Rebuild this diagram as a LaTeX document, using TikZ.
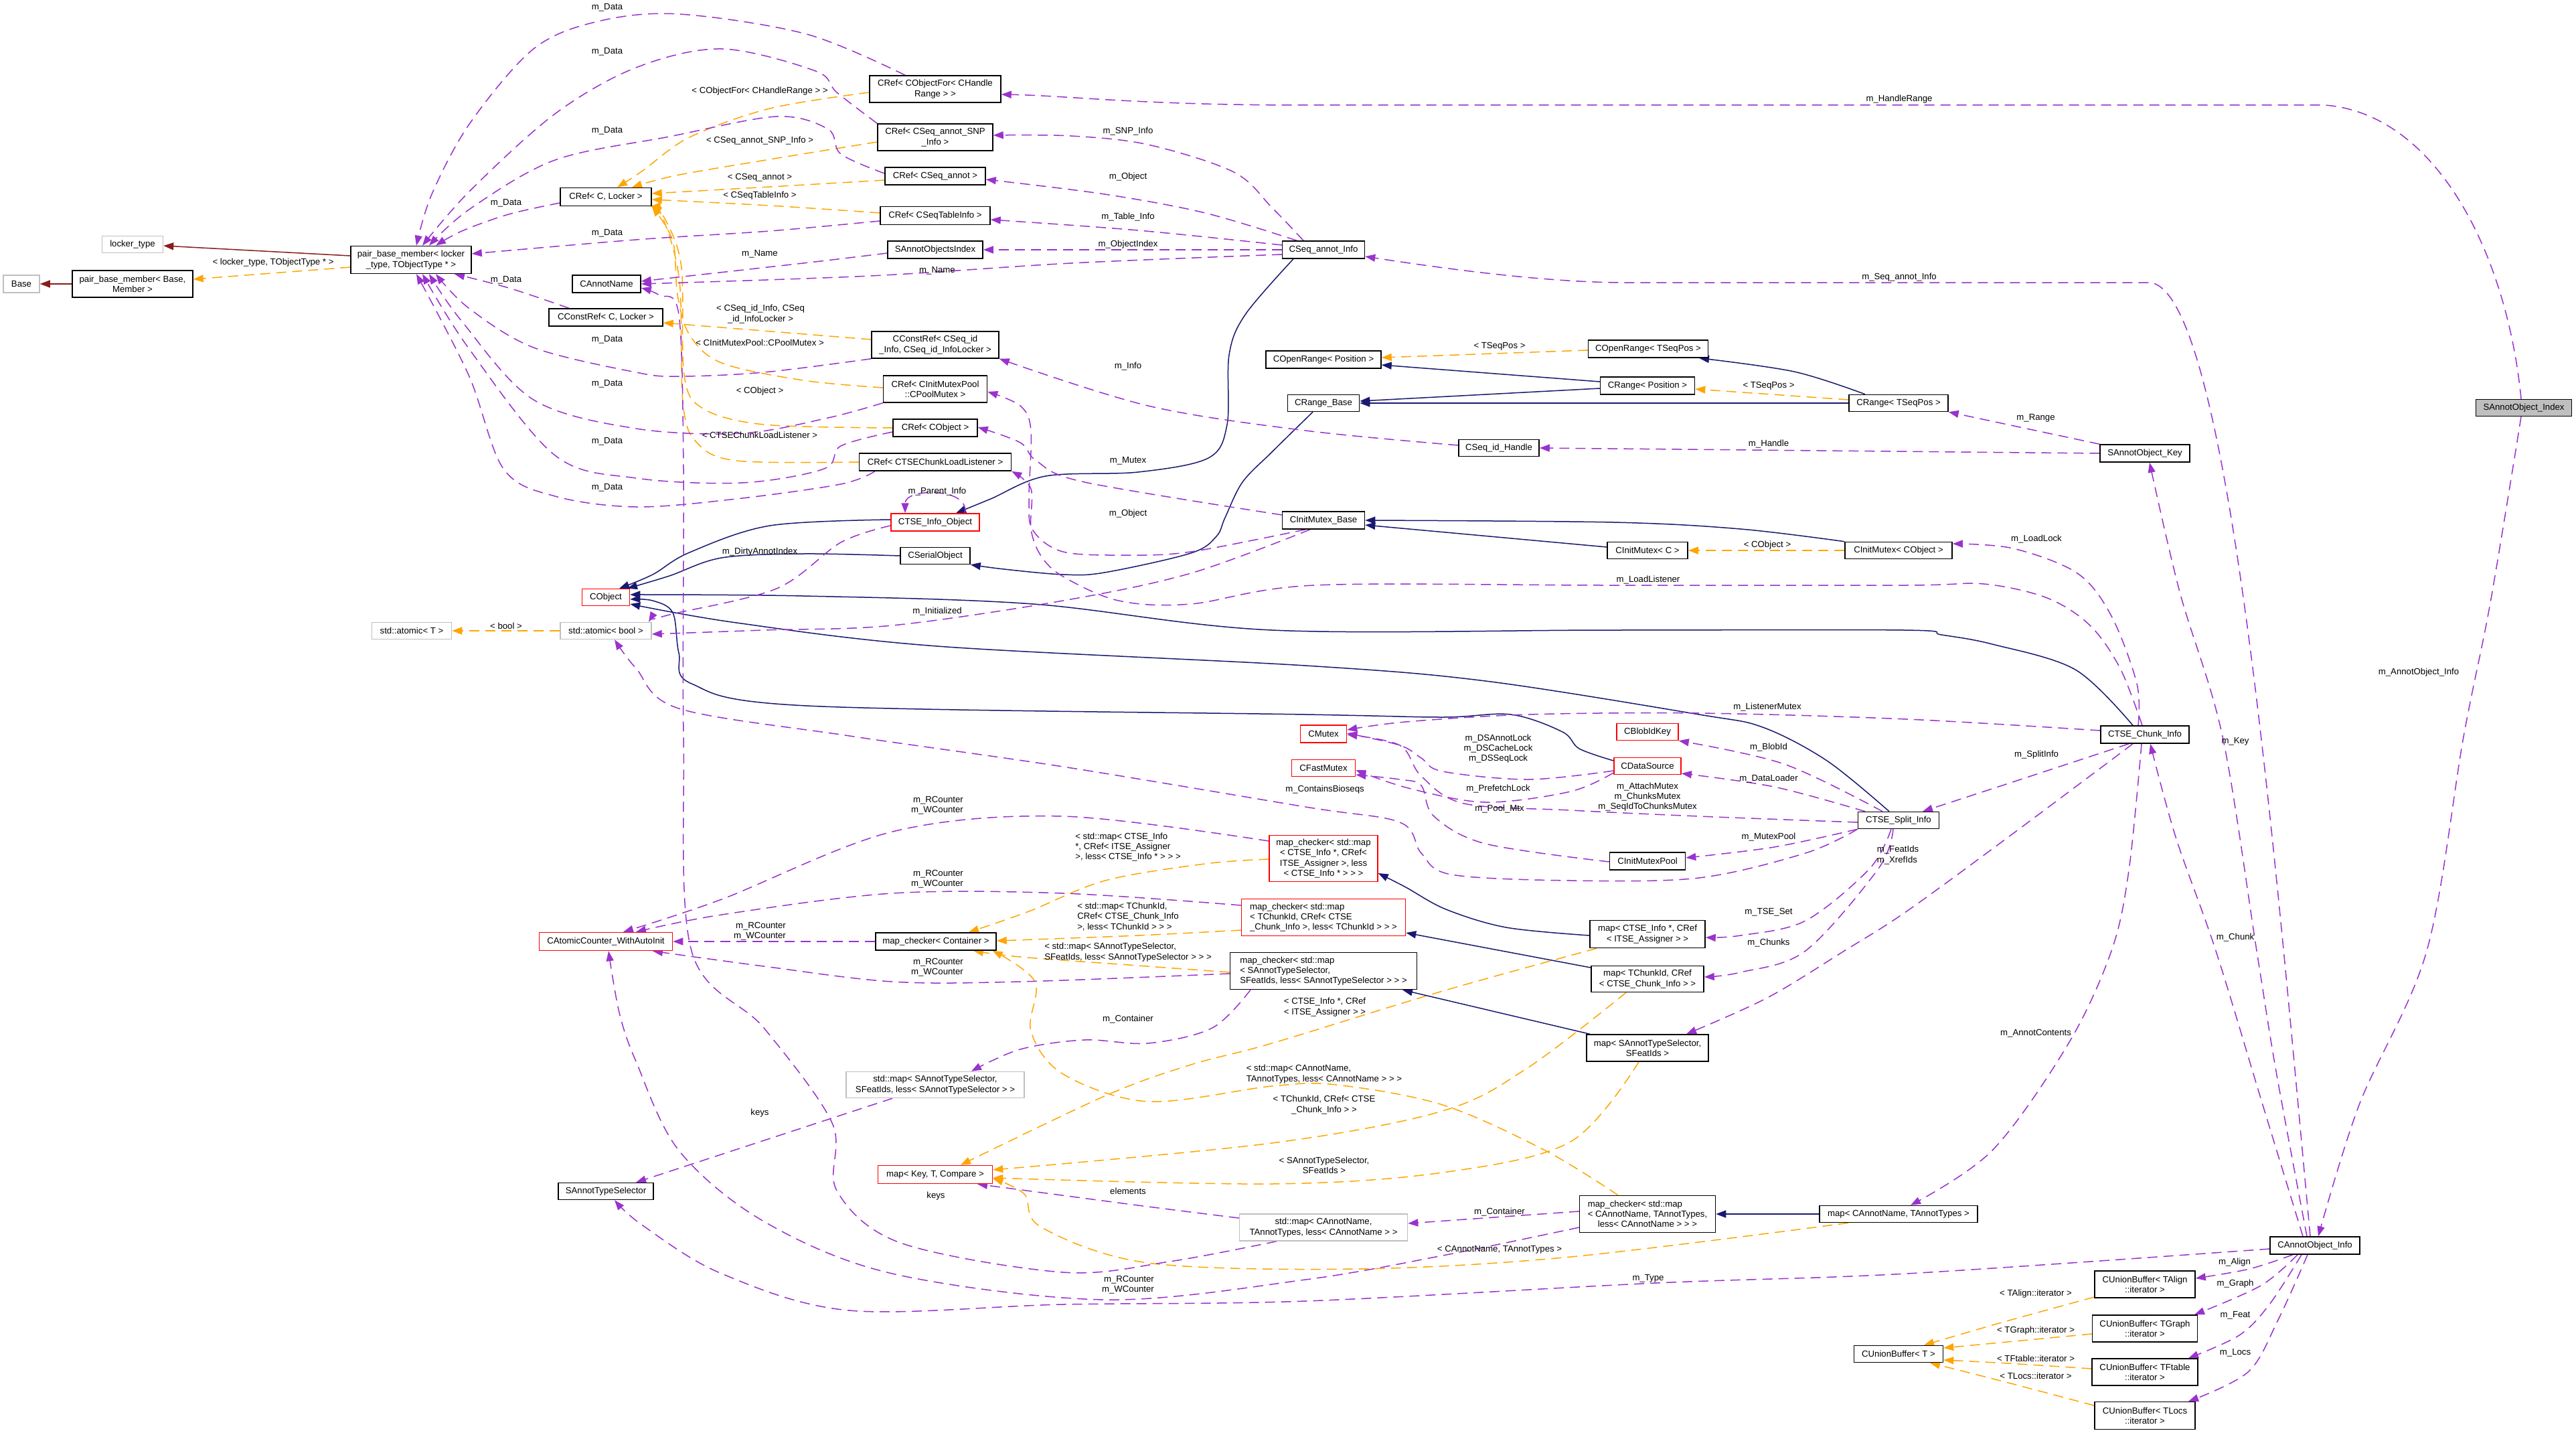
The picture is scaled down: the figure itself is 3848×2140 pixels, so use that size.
\documentclass[tikz,border=0pt]{standalone}
\usepackage{fontspec}
\setmainfont{Liberation Sans}
\usetikzlibrary{arrows.meta}
\pgfdeclarelayer{bg}
\pgfsetlayers{bg,main}
\definecolor{purp}{HTML}{9A32CD}
\definecolor{orng}{HTML}{FFA500}
\definecolor{navyc}{HTML}{191970}
\definecolor{dredc}{HTML}{8B1A1A}
\definecolor{gbord}{HTML}{BFBFBF}
\newcommand\lblfont{\fontsize{13.2}{15.2}\selectfont}
\tikzset{
 nd/.style={draw=black, line width=1.5pt, fill=white, inner sep=1pt, align=center, font=\lblfont},
 rnd/.style={nd, draw=red},
 gnd/.style={nd, draw=gbord},
 lb/.style={inner sep=0pt, font=\lblfont, align=center},
 arr/.style={-{Triangle[length=15pt,width=11pt]}},
 usg/.style={draw=purp, line width=1.5pt, dash pattern=on 15pt off 9pt, arr},
 tpl/.style={draw=orng, line width=1.5pt, dash pattern=on 15pt off 9pt, arr},
 inh/.style={draw=navyc, line width=1.5pt, arr},
 drd/.style={draw=dredc, line width=1.5pt, arr},
 sm/.style={smooth, tension=0.55},
}
\begin{document}
\begin{tikzpicture}[x=1pt,y=-1pt]
\useasboundingbox (0,0) rectangle (3848,2140);
% ---------------- nodes ----------------
\node[gnd, minimum width=54, minimum height=26] (Base) at (32,424) {Base};
\node[nd, minimum width=180, minimum height=40] (pbmBase) at (198,424) {pair\_base\_member< Base,\\Member >};
\node[gnd, minimum width=91, minimum height=25] (lockerType) at (198,365) {locker\_type};
\node[nd, minimum width=180, minimum height=41] (pbmLocker) at (614,388) {pair\_base\_member< locker\\\_type, TObjectType * >};
\node[nd, minimum width=136, minimum height=27] (CRefCL) at (905,294) {CRef< C, Locker >};
\node[nd, minimum width=102, minimum height=26] (CAnnotName) at (906,424) {CAnnotName};
\node[nd, minimum width=170, minimum height=26] (CConstRefCL) at (905,474) {CConstRef< C, Locker >};
\node[nd, minimum width=196, minimum height=40] (CRefHR) at (1397,133) {CRef< CObjectFor< CHandle\\Range > >};
\node[nd, minimum width=172, minimum height=40] (CRefSNP) at (1397,205) {CRef< CSeq\_annot\_SNP\\\_Info >};
\node[nd, minimum width=150, minimum height=26] (CRefSA) at (1397,263) {CRef< CSeq\_annot >};
\node[nd, minimum width=164, minimum height=27] (CRefSTI) at (1397,322) {CRef< CSeqTableInfo >};
\node[nd, minimum width=142, minimum height=26] (SAOsIndex) at (1397,373) {SAnnotObjectsIndex};
\node[nd, minimum width=190, minimum height=40] (CConstRefSI) at (1397,515) {CConstRef< CSeq\_id\\\_Info, CSeq\_id\_InfoLocker >};
\node[nd, minimum width=155, minimum height=40] (CRefPM) at (1397,581) {CRef< CInitMutexPool\\::CPoolMutex >};
\node[nd, minimum width=126, minimum height=26] (CRefCO) at (1397,639) {CRef< CObject >};
\node[nd, minimum width=227, minimum height=26] (CRefLL) at (1397,690) {CRef< CTSEChunkLoadListener >};
\node[nd, minimum width=123, minimum height=26] (CSeqAnnotInfo) at (1977,373) {CSeq\_annot\_Info};
\node[nd, minimum width=172, minimum height=26] (COpenRangePos) at (1977,537) {COpenRange< Position >};
\node[nd, minimum width=179, minimum height=26] (COpenRangeTS) at (2462,521) {COpenRange< TSeqPos >};
\node[nd, minimum width=141, minimum height=26] (CRangePos) at (2461,576) {CRange< Position >};
\node[nd, minimum width=107, minimum height=25] (CRangeBase) at (1977,602) {CRange\_Base};
\node[nd, minimum width=148, minimum height=25] (CRangeTS) at (2836,602) {CRange< TSeqPos >};
\node[nd, minimum width=120, minimum height=25] (CSeqIdHandle) at (2239,669) {CSeq\_id\_Handle};
\node[nd, fill=gbord, minimum width=143, minimum height=25] (SAOIndex) at (3770,609) {SAnnotObject\_Index};
\node[nd, minimum width=134, minimum height=26] (SAOKey) at (3204,677) {SAnnotObject\_Key};
\node[rnd, minimum width=132, minimum height=26] (CTSEInfoObj) at (1397,780) {CTSE\_Info\_Object};
\node[nd, minimum width=104, minimum height=25] (CSerialObject) at (1397,830) {CSerialObject};
\node[rnd, minimum width=71, minimum height=25] (CObject) at (905,892) {CObject};
\node[gnd, minimum width=136, minimum height=25] (atomicBool) at (905,942) {std::atomic< bool >};
\node[gnd, minimum width=119, minimum height=25] (atomicT) at (615,942) {std::atomic< T >};
\node[nd, minimum width=123, minimum height=26] (CInitMutexBase) at (1977,777) {CInitMutex\_Base};
\node[nd, minimum width=120, minimum height=25] (CInitMutexC) at (2461,822) {CInitMutex< C >};
\node[nd, minimum width=160, minimum height=25] (CInitMutexCO) at (2836,822) {CInitMutex< CObject >};
\node[nd, minimum width=132, minimum height=26] (CTSEChunkInfo) at (3204,1097) {CTSE\_Chunk\_Info};
\node[rnd, minimum width=69, minimum height=26] (CMutex) at (1977,1096) {CMutex};
\node[rnd, minimum width=95, minimum height=25] (CFastMutex) at (1977,1147) {CFastMutex};
\node[rnd, minimum width=92, minimum height=25] (CBlobIdKey) at (2461,1093) {CBlobIdKey};
\node[rnd, minimum width=100, minimum height=25] (CDataSource) at (2461,1144) {CDataSource};
\node[nd, minimum width=121, minimum height=25] (CTSESplitInfo) at (2836,1225) {CTSE\_Split\_Info};
\node[nd, minimum width=113, minimum height=26] (CInitMutexPool) at (2461,1286) {CInitMutexPool};
\node[rnd, minimum width=162, minimum height=69] (mcTSE) at (1977,1282) {map\_checker< std::map\\< CTSE\_Info *, CRef<\\ITSE\_Assigner >, less\\< CTSE\_Info * > > >};
\node[rnd, minimum width=245, minimum height=55, align=left] (mcChunk) at (1977,1370) {map\_checker< std::map\\< TChunkId, CRef< CTSE\\\_Chunk\_Info >, less< TChunkId > > >};
\node[nd, minimum width=172, minimum height=41] (mapTSE) at (2461,1395) {map< CTSE\_Info *, CRef\\< ITSE\_Assigner > >};
\node[rnd, minimum width=199, minimum height=27] (CAtomicCounter) at (905,1406) {CAtomicCounter\_WithAutoInit};
\node[nd, minimum width=180, minimum height=26] (mcContainer) at (1398,1406) {map\_checker< Container >};
\node[nd, minimum width=279, minimum height=55, align=left] (mcSATS) at (1977,1450) {map\_checker< std::map\\< SAnnotTypeSelector,\\SFeatIds, less< SAnnotTypeSelector > > >};
\node[gnd, minimum width=266, minimum height=39] (stdmapSATS) at (1397,1620) {std::map< SAnnotTypeSelector,\\SFeatIds, less< SAnnotTypeSelector > >};
\node[nd, minimum width=142, minimum height=25] (SATSel) at (905,1779) {SAnnotTypeSelector};
\node[rnd, minimum width=171, minimum height=27] (mapKTC) at (1397,1754) {map< Key, T, Compare >};
\node[gnd, minimum width=251, minimum height=40] (stdmapCAN) at (1977,1833) {std::map< CAnnotName,\\TAnnotTypes, less< CAnnotName > >};
\node[nd, minimum width=168, minimum height=39] (mapTChunk) at (2461,1462) {map< TChunkId, CRef\\< CTSE\_Chunk\_Info > >};
\node[nd, minimum width=182, minimum height=40] (mapSATS) at (2461,1565) {map< SAnnotTypeSelector,\\SFeatIds >};
\node[nd, minimum width=203, minimum height=55, align=left] (mcCAN) at (2461,1813) {map\_checker< std::map\\< CAnnotName, TAnnotTypes,\\\hspace*{15pt}less< CAnnotName > > >};
\node[nd, minimum width=236, minimum height=25] (mapCAN) at (2836,1813) {map< CAnnotName, TAnnotTypes >};
\node[nd, minimum width=133, minimum height=25] (CUnionT) at (2836,2022) {CUnionBuffer< T >};
\node[nd, minimum width=134, minimum height=26] (CAOInfo) at (3458,1860) {CAnnotObject\_Info};
\node[nd, minimum width=150, minimum height=40] (CUBAlign) at (3204,1918) {CUnionBuffer< TAlign\\::iterator >};
\node[nd, minimum width=157, minimum height=40] (CUBGraph) at (3204,1984) {CUnionBuffer< TGraph\\::iterator >};
\node[nd, minimum width=158, minimum height=40] (CUBFtable) at (3204,2049) {CUnionBuffer< TFtable\\::iterator >};
\node[nd, minimum width=150, minimum height=41] (CUBLocs) at (3204,2114) {CUnionBuffer< TLocs\\::iterator >};

% ---------------- edges ----------------
\begin{pgfonlayer}{bg}
\fill[white] (0,0) rectangle (3848,2140);
% dark red
\draw[drd] ([yshift=6pt]pbmLocker.west) -- ([yshift=-2pt]lockerType.east);
\draw[drd] (pbmBase.west) -- (Base.east);
% orange template
\draw[tpl] ([yshift=-11pt]pbmLocker.west) -- ([yshift=7pt]pbmBase.east);
\draw[tpl] (atomicBool.west) -- (atomicT.east);
\draw[tpl] plot[sm] coordinates {([yshift=-5pt]CRefHR.west) (1150,162) (1030,205) (960,255) ([xshift=17pt]CRefCL.north)};
\draw[tpl] plot[sm] coordinates {([yshift=-7pt]CRefSNP.west) (1150,238) (1010,262) ([xshift=39pt]CRefCL.north)};
\draw[tpl] plot[sm] coordinates {([yshift=-6pt]CRefSA.west) (1150,279) ([yshift=5pt]CRefCL.east)};
\draw[tpl] plot[sm] coordinates {([yshift=4pt]CRefSTI.west) (1150,307) ([yshift=-4pt]CRefCL.east)};
\draw[tpl] plot[sm] coordinates {([yshift=2pt]CRefPM.west) (1200,568) (1078,542) (1030,500) (1012,440) (1005,360) (CRefCL.south east)};
\draw[tpl] plot[sm] coordinates {(CRefCO.west) (1141,634) (1050,610) (1022,560) (1018,400) (995,330) ([yshift=2pt]CRefCL.south east)};
\draw[tpl] plot[sm] coordinates {(CRefLL.west) (1100,688) (1040,660) (1020,600) (1015,420) (990,325) ([xshift=-2pt]CRefCL.south east)};
\draw[tpl] ([yshift=8pt]CConstRefSI.west) -- ([yshift=-8pt]CConstRefCL.east);
\draw[tpl] (CInitMutexCO.west) -- (CInitMutexC.east);
\draw[tpl] ([yshift=-2pt]COpenRangeTS.west) -- ([yshift=3pt]COpenRangePos.east);
\draw[tpl] ([yshift=5pt]CRangeTS.west) -- ([yshift=-5pt]CRangePos.east);
\draw[tpl] plot[sm] coordinates {([yshift=-1pt]mcTSE.west) (1800,1290) (1651,1315) (1537,1361) ([xshift=49pt]mcContainer.north)};
\draw[tpl] plot[sm] coordinates {([yshift=-19pt]mcChunk.west) (1700,1397) ([yshift=1pt]mcContainer.east)};
\draw[tpl] plot[sm] coordinates {([yshift=-2pt]mcSATS.west) (1700,1442) (1524,1429) ([xshift=56pt]mcContainer.south)};
\draw[tpl] plot[sm] coordinates {([xshift=-44pt]mcCAN.north) (2308,1718) (2155,1650) (1996,1620) (1900,1622) (1715,1645) (1588,1604) (1540,1540) (1546,1466) ([xshift=-6pt]mcContainer.south east)};
\draw[tpl] plot[sm] coordinates {([xshift=-76pt]mapTSE.south) (2155,1480) (1900,1558) (1779,1590) (1652,1636) ([xshift=38pt]mapKTC.north)};
\draw[tpl] plot[sm] coordinates {([xshift=-32pt]mapTChunk.south) (2283,1594) (2155,1659) (1900,1707) ([yshift=7pt]mapKTC.east)};
\draw[tpl] plot[sm] coordinates {([xshift=-13pt]mapSATS.south) (2346,1705) (2155,1751) (1900,1768) ([yshift=-5pt]mapKTC.east)};
\draw[tpl] plot[sm] coordinates {([xshift=-75pt]mapCAN.south) (2346,1877) (2028,1895) (1715,1886) (1556,1833) (1530,1783) ([yshift=-6pt]mapKTC.east)};
\draw[tpl] plot[sm] coordinates {([yshift=-19pt]CUBAlign.west) (2990,1975) ([xshift=38pt]CUnionT.north)};
\draw[tpl] ([yshift=-8pt]CUBGraph.west) -- ([yshift=9pt]CUnionT.east);
\draw[tpl] plot[sm] coordinates {([yshift=5pt]CUBFtable.west) (3000,2036) ([yshift=-9pt]CUnionT.east)};
\draw[tpl] plot[sm] coordinates {([yshift=15pt]CUBLocs.west) (3000,2065) ([xshift=47pt]CUnionT.south)};
% navy inheritance
\draw[inh] plot[sm] coordinates {([yshift=4pt]CTSEInfoObj.west) (1150,785) (1030,825) (975,858) ([xshift=20pt]CObject.north)};
\draw[inh] plot[sm] coordinates {(CSerialObject.west) (1200,827) (1078,833) (1000,860) ([xshift=32pt]CObject.north)};
\draw[inh] plot[sm] coordinates {([xshift=-45pt]CSeqAnnotInfo.south) (1860,470) (1836,530) (1833,634) (1805,684) (1700,705) (1562,711) (1480,745) ([xshift=31pt]CTSEInfoObj.north)};
\draw[inh] plot[sm] coordinates {([xshift=-16pt]CRangeBase.south) (1900,675) (1856,720) (1830,773) (1817,801) (1779,826) (1650,855) (1588,858) (1500,850) (CSerialObject.south east)};
\draw[inh] plot[sm] coordinates {([xshift=-18pt]CTSEChunkInfo.north) (3100,1000) (2976,962) (2900,948) (2844,941) (2400,941) (1900,941) (1543,902) (1200,890) ([yshift=4pt]CObject.east)};
\draw[inh] plot[sm] coordinates {([xshift=-14pt]CTSESplitInfo.north) (2729,1136) (2633,1086) (2538,1067) (2219,1017) (1950,994) (1400,965) (1100,930) ([yshift=-10pt]CObject.east)};
\draw[inh] plot[sm] coordinates {([yshift=8pt]CDataSource.west) (2359,1118) (2334,1093) (2257,1067) (2155,1071) (1950,1067) (1205,1054) (1033,1021) (1014,975) (1005,915) (975,897) ([yshift=-3pt]CObject.east)};
\draw[inh] ([yshift=5pt]CInitMutexC.west) -- ([yshift=-7pt]CInitMutexBase.east);
\draw[inh] plot[sm] coordinates {(CInitMutexCO.north west) (2600,790) (2410,780) (CInitMutexBase.east)};
\draw[inh] ([yshift=6pt]CRangePos.west) -- ([yshift=-8pt]COpenRangePos.east);
\draw[inh] ([yshift=-4pt]CRangePos.west) -- ([yshift=3pt]CRangeBase.east);
\draw[inh] (CRangeTS.west) -- (CRangeBase.east);
\draw[inh] plot[sm] coordinates {([xshift=-50pt]CRangeTS.north) (2680,555) ([xshift=76pt]COpenRangeTS.south)};
\draw[inh] plot[sm] coordinates {([yshift=-2pt]mapTSE.west) (2250,1385) (2160,1358) (2100,1325) ([yshift=-22pt]mcTSE.east)};
\draw[inh] ([yshift=17pt]mapTChunk.west) -- ([yshift=-23pt]mcChunk.east);
\draw[inh] ([xshift=-86pt]mapSATS.north) -- ([xshift=118pt]mcSATS.south);
\draw[inh] (mapCAN.west) -- (mcCAN.east);
% purple usage: m_Data
\draw[usg] plot[sm] coordinates {([xshift=-45pt]CRefHR.north) (1205,51) (1014,21) (893,32) (797,73) (702,184) (645,290) ([xshift=8pt]pbmLocker.north)};
\draw[usg] plot[sm] coordinates {(CRefSNP.north west) (1250,138) (1218,106) (1078,73) (950,101) (829,170) (702,285) ([xshift=17pt]pbmLocker.north)};
\draw[usg] plot[sm] coordinates {([yshift=4pt]CRefSA.west) (1256,230) (1237,193) (1160,174) (1000,204) (829,239) (702,312) ([xshift=27pt]pbmLocker.north)};
\draw[usg] plot[sm] coordinates {([yshift=-9pt]CRefCL.west) (760,320) (690,345) ([xshift=37pt]pbmLocker.north)};
\draw[usg] plot[sm] coordinates {([yshift=-8pt]CRefSTI.west) (1150,345) (950,358) ([yshift=9pt]pbmLocker.east)};
\draw[usg] plot[sm] coordinates {([xshift=-55pt]CConstRefCL.north) (760,430) ([xshift=65pt]pbmLocker.south)};
\draw[usg] plot[sm] coordinates {(CConstRefSI.south west) (1141,556) (1014,562) (950,556) (797,519) (700,460) ([xshift=37pt]pbmLocker.south)};
\draw[usg] plot[sm] coordinates {(CRefPM.south west) (1237,624) (1109,647) (950,640) (797,597) (690,480) ([xshift=27pt]pbmLocker.south)};
\draw[usg] plot[sm] coordinates {([yshift=-6pt]CRefCO.west) (1256,666) (1231,700) (1109,721) (950,714) (829,680) (700,520) ([xshift=17pt]pbmLocker.south)};
\draw[usg] plot[sm] coordinates {([xshift=-90pt]CRefLL.south) (1256,723) (1100,745) (950,757) (829,741) (752,700) (700,560) ([xshift=8pt]pbmLocker.south)};
% m_Name, keys
\draw[usg] plot[sm] coordinates {([yshift=-5pt]SAOsIndex.west) (1200,393) ([yshift=4pt]CAnnotName.east)};
\draw[usg] plot[sm] coordinates {([yshift=-7pt]CSeqAnnotInfo.west) (1600,393) (1300,412) (CAnnotName.east)};
\draw[usg] plot[sm] coordinates {([xshift=-70pt]stdmapCAN.south) (1747,1884) (1588,1900) (1345,1856) (1250,1778) (1243,1677) (1141,1535) (1033,1420) (1021,1100) (1021,700) (1014,470) (985,441) ([yshift=-6pt]CAnnotName.east)};
% CSeq_annot_Info members
\draw[usg] (CSeqAnnotInfo.west) -- (SAOsIndex.east);
\draw[usg] plot[sm] coordinates {([yshift=7pt]CSeqAnnotInfo.west) (1700,344) ([yshift=-6pt]CRefSTI.east)};
\draw[usg] plot[sm] coordinates {([xshift=-40pt]CSeqAnnotInfo.north) (1800,318) (1650,290) ([yshift=-5pt]CRefSA.east)};
\draw[usg] plot[sm] coordinates {([xshift=-30pt]CSeqAnnotInfo.north) (1900,310) (1843,257) (1715,216) (1600,203) ([yshift=3pt]CRefSNP.east)};
% SAnnotObject_Index, key, info
\draw[usg] ([xshift=-4pt]SAOIndex.north) .. controls (3745,380) and (3640,170) .. (3473,157) -- (1950,157) .. controls (1700,157) and (1600,143) .. ([yshift=-8pt]CRefHR.east);
\draw[usg] ([xshift=-7pt]CAOInfo.north) .. controls (3400,1300) and (3330,430) .. (3211,422) -- (2420,422) .. controls (2300,421) and (2150,400) .. ([yshift=-10pt]CSeqAnnotInfo.east);
\draw[usg] (SAOKey.north west) -- (CRangeTS.south east);
\draw[usg] (SAOKey.west) -- (CSeqIdHandle.east);
\draw[usg] plot[sm] coordinates {([xshift=-12pt]CAOInfo.north) (3400,1600) (3371,1420) (3320,1100) (3256,884) ([xshift=7pt]SAOKey.south)};
\draw[usg] plot[sm] coordinates {([xshift=-18pt]CAOInfo.north) (3380,1650) (3310,1420) (3250,1250) ([xshift=8pt]CTSEChunkInfo.south)};
\draw[usg] plot[sm] coordinates {([xshift=-4pt]SAOIndex.south) (3720,900) (3680,1100) (3625,1420) (3524,1650) ([xshift=5pt]CAOInfo.north)};
\draw[usg] plot[sm] coordinates {([yshift=4pt]CSeqIdHandle.west) (1950,643) (1715,606) (CConstRefSI.south east)};
% CTSE_Chunk_Info members
\draw[usg] plot[sm] coordinates {([xshift=-5pt]CTSEChunkInfo.south) (3180,1300) (3154,1420) (3090,1558) (2976,1718) ([xshift=18pt]mapCAN.north)};
\draw[usg] plot[sm] coordinates {([xshift=-24pt]CTSEChunkInfo.south) (3000,1170) ([xshift=36pt]CTSESplitInfo.north)};
\draw[usg] plot[sm] coordinates {([xshift=-10pt]CTSEChunkInfo.north) (3192,1021) (3154,920) (3103,856) (3007,819) ([yshift=10pt]CInitMutexCO.east)};
\draw[usg] plot[sm] coordinates {([xshift=-4pt]CTSEChunkInfo.north) (3167,998) (3122,934) (3058,893) (2963,872) (2848,874) (2400,874) (1964,874) (1779,902) (1671,897) (1588,861) (1555,830) (1540,790) (1540,730) (CRefLL.south east)};
\draw[usg] plot[sm] coordinates {([yshift=6pt]CTSEChunkInfo.west) (2848,1074) (2538,1065) (2283,1067) (2100,1078) ([yshift=6pt]CMutex.east)};
\draw[usg] plot[sm] coordinates {([xshift=-18pt]CTSEChunkInfo.south) (3000,1250) (2848,1361) (2755,1420) (2640,1490) ([xshift=58pt]mapSATS.north)};
% CTSE_Split_Info members
\draw[usg] plot[sm] coordinates {([xshift=-24pt]CTSESplitInfo.north) (2665,1141) (CBlobIdKey.south east)};
\draw[usg] plot[sm] coordinates {([xshift=-50pt]CTSESplitInfo.north) (2650,1175) ([yshift=-11pt]CDataSource.east)};
\draw[usg] plot[sm] coordinates {([yshift=-3pt]CTSESplitInfo.west) (2538,1219) (2346,1210) (2187,1200) (2123,1159) (2091,1113) ([yshift=-1pt]CMutex.east)};
\draw[usg] plot[sm] coordinates {(CTSESplitInfo.south west) (2650,1265) ([yshift=5pt]CInitMutexPool.east)};
\draw[usg] plot[sm] coordinates {([xshift=-11pt]CTSESplitInfo.south) (2793,1297) (2697,1375) (2600,1397) ([yshift=-5pt]mapTSE.east)};
\draw[usg] plot[sm] coordinates {([xshift=-8pt]CTSESplitInfo.south) (2806,1297) (2697,1420) (2600,1452) ([yshift=3pt]mapTChunk.east)};
\draw[usg] plot[sm] coordinates {(CTSESplitInfo.south west) (2697,1274) (2538,1311) (2346,1315) (2168,1306) (2123,1274) (2091,1228) (1950,1205) (1588,1145) (1269,1099) (1014,1058) (950,998) ([xshift=13pt]atomicBool.south)};
% CDataSource, CInitMutexPool
\draw[usg] plot[sm] coordinates {([yshift=-7pt]CDataSource.west) (2283,1164) (2155,1152) (2123,1132) (2091,1113) ([yshift=1pt]CMutex.east)};
\draw[usg] plot[sm] coordinates {([yshift=-10pt]CDataSource.west) (2346,1182) (2219,1198) (2104,1177) ([yshift=-3pt]CFastMutex.east)};
\draw[usg] plot[sm] coordinates {([yshift=-1pt]CInitMutexPool.west) (2219,1260) (2142,1219) (2123,1173) (2091,1164) ([yshift=-10pt]CFastMutex.east)};
% CInitMutex_Base members
\draw[usg] plot[sm] coordinates {([xshift=-27pt]CInitMutexBase.south) (1779,824) (1683,829) (1588,824) (1543,792) (1537,746) (1540,643) (1524,606) ([yshift=-4pt]CRefPM.east)};
\draw[usg] plot[sm] coordinates {([yshift=8pt]CInitMutexBase.west) (1620,720) (1549,689) (1524,661) ([yshift=1pt]CRefCO.east)};
\draw[usg] plot[sm] coordinates {([xshift=-20pt]CInitMutexBase.south) (1779,856) (1588,897) (1333,934) (1141,941) ([yshift=-5pt]atomicBool.east)};
% CTSE_Info_Object
\draw[usg] plot[sm] coordinates {([yshift=-5pt]CTSEInfoObj.west) (1256,810) (1160,879) (1000,918) ([xshift=64pt]atomicBool.north)};
\draw[usg] ([xshift=44pt]CTSEInfoObj.north) .. controls (1450,728) and (1352,728) .. ([xshift=-45pt]CTSEInfoObj.north);
% counters
\draw[usg] plot[sm] coordinates {([yshift=26pt]mcTSE.west) (1588,1219) (1333,1242) (1078,1343) ([xshift=26pt]CAtomicCounter.north)};
\draw[usg] plot[sm] coordinates {([yshift=18pt]mcChunk.west) (1588,1334) (1333,1334) (1078,1366) ([xshift=45pt]CAtomicCounter.north)};
\draw[usg] (mcContainer.west) -- (CAtomicCounter.east);
\draw[usg] plot[sm] coordinates {([yshift=-4pt]mcSATS.west) (1524,1466) (1333,1466) (1141,1443) ([xshift=70pt]CAtomicCounter.south)};
\draw[usg] plot[sm] coordinates {([yshift=-20pt]mcCAN.west) (2155,1875) (1950,1911) (1652,1941) (1333,1902) (1141,1824) (1014,1718) (950,1585) (925,1512) ([xshift=4pt]CAtomicCounter.south)};
% containers, keys, elements
\draw[usg] plot[sm] coordinates {([xshift=-109pt]mcSATS.south) (1811,1535) (1715,1558) (1620,1553) (1524,1567) ([xshift=54pt]stdmapSATS.north)};
\draw[usg] ([yshift=4pt]mcCAN.west) -- ([yshift=6pt]stdmapCAN.east);
\draw[usg] ([xshift=-64pt]stdmapSATS.south) -- ([xshift=45pt]SATSel.north);
\draw[usg] plot[sm] coordinates {([yshift=14pt]stdmapCAN.west) (1700,1800) ([xshift=63pt]mapKTC.south)};
\draw[usg] plot[sm] coordinates {([yshift=-5pt]CAOInfo.west) (2848,1902) (2474,1916) (1950,1943) (1588,1948) (1269,1957) (1078,1902) (960,1830) ([xshift=13pt]SATSel.south)};
% CAnnotObject_Info buffers
\draw[usg] plot[sm] coordinates {([xshift=-33pt]CAOInfo.south) (3360,1895) ([yshift=9pt]CUBAlign.east)};
\draw[usg] plot[sm] coordinates {([xshift=-26pt]CAOInfo.south) (3377,1920) ([xshift=74pt]CUBGraph.north)};
\draw[usg] plot[sm] coordinates {([xshift=-20pt]CAOInfo.south) (3390,1948) (3345,1994) ([xshift=65pt]CUBFtable.north)};
\draw[usg] plot[sm] coordinates {([xshift=-11pt]CAOInfo.south) (3403,1971) (3358,2049) ([xshift=65pt]CUBLocs.north)};
\end{pgfonlayer}

% ---------------- labels ----------------
\node[lb] (l1) at (907,11) {m\_Data};
\node[lb] (l2) at (907,77) {m\_Data};
\node[lb] (l3) at (907,195) {m\_Data};
\node[lb] (l4) at (756,303) {m\_Data};
\node[lb] (l5) at (907,348) {m\_Data};
\node[lb] (l6) at (756,418) {m\_Data};
\node[lb] (l7) at (907,507) {m\_Data};
\node[lb] (l8) at (907,573) {m\_Data};
\node[lb] (l9) at (907,659) {m\_Data};
\node[lb] (l10) at (907,728) {m\_Data};
\node[lb] (l11) at (408,392) {< locker\_type, TObjectType * >};
\node[lb] (l12) at (756,935) {< bool >};
\node[lb] (l13) at (1135,136) {< CObjectFor< CHandleRange > >};
\node[lb] (l14) at (1135,210) {< CSeq\_annot\_SNP\_Info >};
\node[lb] (l15) at (1135,265) {< CSeq\_annot >};
\node[lb] (l16) at (1135,292) {< CSeqTableInfo >};
\node[lb] (l17) at (1135,379) {m\_Name};
\node[lb] (l18) at (1400,404) {m\_Name};
\node[lb] (l19) at (1685,196) {m\_SNP\_Info};
\node[lb] (l20) at (1685,264) {m\_Object};
\node[lb] (l21) at (1685,324) {m\_Table\_Info};
\node[lb] (l22) at (1685,365) {m\_ObjectIndex};
\node[lb] (l23) at (1136,469) {< CSeq\_id\_Info, CSeq\\\_id\_InfoLocker >};
\node[lb] (l24) at (1135,512) {< CInitMutexPool::CPoolMutex >};
\node[lb] (l25) at (1135,584) {< CObject >};
\node[lb] (l26) at (1135,650) {< CTSEChunkLoadListener >};
\node[lb] (l27) at (1685,547) {m\_Info};
\node[lb] (l28) at (1685,688) {m\_Mutex};
\node[lb] (l29) at (2837,148) {m\_HandleRange};
\node[lb] (l30) at (2837,414) {m\_Seq\_annot\_Info};
\node[lb] (l31) at (2240,517) {< TSeqPos >};
\node[lb] (l32) at (2642,576) {< TSeqPos >};
\node[lb] (l33) at (2642,663) {m\_Handle};
\node[lb] (l34) at (3041,624) {m\_Range};
\node[lb] (l35) at (3042,805) {m\_LoadLock};
\node[lb] (l36) at (3042,1127) {m\_SplitInfo};
\node[lb] (l37) at (3339,1107) {m\_Key};
\node[lb] (l38) at (3613,1004) {m\_AnnotObject\_Info};
\node[lb] (l39) at (3339,1400) {m\_Chunk};
\node[lb] (l40) at (2640,814) {< CObject >};
\node[lb] (l41) at (2462,866) {m\_LoadListener};
\node[lb] (l42) at (2640,1056) {m\_ListenerMutex};
\node[lb] (l43) at (2238,1118) {m\_DSAnnotLock\\m\_DSCacheLock\\m\_DSSeqLock};
\node[lb] (l44) at (2642,1116) {m\_BlobId};
\node[lb] (l45) at (2238,1178) {m\_PrefetchLock};
\node[lb] (l46) at (2642,1163) {m\_DataLoader};
\node[lb] (l47) at (2461,1190) {m\_AttachMutex\\m\_ChunksMutex\\m\_SeqIdToChunksMutex};
\node[lb] (l48) at (2240,1208) {m\_Pool\_Mtx};
\node[lb] (l49) at (1979,1179) {m\_ContainsBioseqs};
\node[lb] (l50) at (2642,1250) {m\_MutexPool};
\node[lb, align=left] (l51) at (2835,1277) {m\_FeatIds\\m\_XrefIds};
\node[lb] (l52) at (2642,1362) {m\_TSE\_Set};
\node[lb] (l53) at (2642,1408) {m\_Chunks};
\node[lb] (l54) at (1400,734) {m\_Parent\_Info};
\node[lb] (l55) at (1685,767) {m\_Object};
\node[lb] (l56) at (1135,824) {m\_DirtyAnnotIndex};
\node[lb] (l57) at (1400,913) {m\_Initialized};
\node[lb, align=right] (l58) at (1400,1203) {m\_RCounter\\m\_WCounter};
\node[lb, align=left] (l59) at (1685,1265) {< std::map< CTSE\_Info\\*, CRef< ITSE\_Assigner\\>, less< CTSE\_Info * > > >};
\node[lb, align=right] (l60) at (1400,1313) {m\_RCounter\\m\_WCounter};
\node[lb, align=left] (l61) at (1685,1369) {< std::map< TChunkId,\\CRef< CTSE\_Chunk\_Info\\>, less< TChunkId > > >};
\node[lb, align=right] (l62) at (1135,1391) {m\_RCounter\\m\_WCounter};
\node[lb, align=left] (l63) at (1685,1422) {< std::map< SAnnotTypeSelector,\\SFeatIds, less< SAnnotTypeSelector > > >};
\node[lb, align=right] (l64) at (1400,1445) {m\_RCounter\\m\_WCounter};
\node[lb] (l65) at (1685,1522) {m\_Container};
\node[lb] (l66) at (1135,1662) {keys};
\node[lb] (l67) at (1398,1786) {keys};
\node[lb] (l68) at (1685,1779) {elements};
\node[lb, align=right] (l69) at (1685,1919) {m\_RCounter\\m\_WCounter};
\node[lb, align=left] (l70) at (1978,1604) {< std::map< CAnnotName,\\TAnnotTypes, less< CAnnotName > > >};
\node[lb] (l71) at (1978,1650) {< TChunkId, CRef< CTSE\\\_Chunk\_Info > >};
\node[lb] (l72) at (1978,1740) {< SAnnotTypeSelector,\\SFeatIds >};
\node[lb] (l73) at (1979,1504) {< CTSE\_Info *, CRef\\< ITSE\_Assigner > >};
\node[lb] (l74) at (2240,1810) {m\_Container};
\node[lb] (l75) at (2240,1866) {< CAnnotName, TAnnotTypes >};
\node[lb] (l76) at (2462,1909) {m\_Type};
\node[lb] (l77) at (3041,1543) {m\_AnnotContents};
\node[lb] (l78) at (3338,1885) {m\_Align};
\node[lb] (l79) at (3339,1917) {m\_Graph};
\node[lb] (l80) at (3339,1964) {m\_Feat};
\node[lb] (l81) at (3339,2020) {m\_Locs};
\node[lb] (l82) at (3041,1932) {< TAlign::iterator >};
\node[lb] (l83) at (3041,1987) {< TGraph::iterator >};
\node[lb] (l84) at (3041,2029) {< TFtable::iterator >};
\node[lb] (l85) at (3041,2055) {< TLocs::iterator >};
\end{tikzpicture}
\end{document}
